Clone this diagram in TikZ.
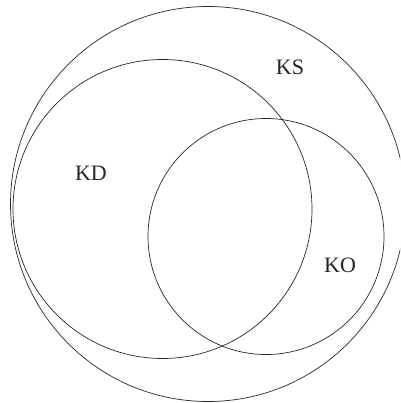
\documentclass[tikz,border=0pt]{standalone}
\usepackage{fontspec}
\setmainfont{Liberation Serif}
\begin{document}
\begin{tikzpicture}[x=1pt,y=-1pt,
  ring/.style={draw=black!85,line width=0.7pt},
  lbl/.style={font=\fontsize{22}{22}\selectfont,text=black!85,inner sep=0pt}]
\path[use as bounding box] (0,0) rectangle (400,403);
\begin{scope}
\clip (0,0) rectangle (400,403);
\draw[ring] (208,204) circle[radius=197.5];
\end{scope}
\draw[ring] (162.5,209) circle[radius=149.5];
\draw[ring] (266,236.5) circle[radius=118];
\node[lbl] (ks) at (290,67) {KS};
\node[lbl] (kd) at (91,173) {KD};
\node[lbl] (ko) at (340,265) {KO};
\end{tikzpicture}
\end{document}
